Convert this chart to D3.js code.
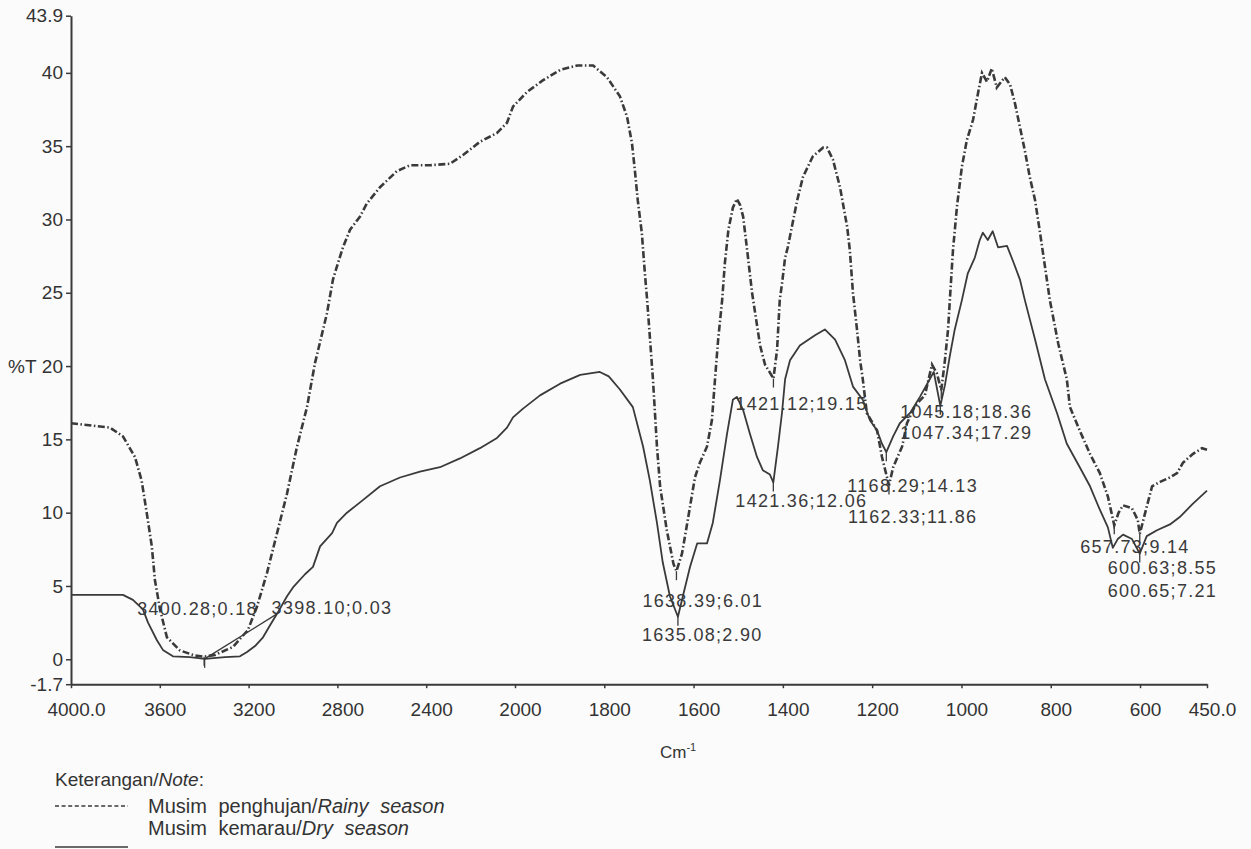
<!DOCTYPE html>
<html>
<head>
<meta charset="utf-8">
<script src="https://cdn.jsdelivr.net/npm/d3@7"></script>
<style>
  body { margin: 0; background: #fbfbfb; }
  svg { display: block; font-family: "Liberation Sans", Arial, sans-serif; }
</style>
</head>
<body>
<svg width="1251" height="849"></svg>
<script>
// [wavenumber cm-1, %T]
let rainy = [
  [4000,16.1],[3824,15.8],[3766,15.2],[3712,13.8],[3682,12.2],[3659,10.0],[3636,7.7],[3622,5.4],
  [3599,3.4],[3568,1.5],[3509,0.6],[3441,0.25],[3400.28,0.18],[3351,0.3],[3270,0.85],[3203,2.0],
  [3162,3.6],[3117,5.9],[3072,8.6],[3027,11.3],[2982,14.5],[2937,17.2],[2901,20.2],[2847,23.6],
  [2820,25.9],[2802,26.8],[2775,28.1],[2743,29.3],[2698,30.2],[2667,31.1],[2608,32.2],[2532,33.3],
  [2473,33.7],[2383,33.7],[2293,33.8],[2234,34.4],[2158,35.3],[2081,35.9],[2036,36.6],[2009,37.7],
  [1973,38.7],[1937,39.5],[1899,40.2],[1861,40.5],[1825,40.5],[1794,39.7],[1765,38.4],[1749,37.0],
  [1738,35.2],[1731,33.2],[1725,31.3],[1716,29.1],[1709,26.3],[1704,24.5],[1691,19.1],[1682,14.5],
  [1675,11.8],[1660,8.8],[1645,6.5],[1638.39,6.01],[1626,7.2],[1613,9.5],[1597,12.4],[1586,13.4],
  [1570,14.5],[1559,16.3],[1552,19.1],[1545,21.8],[1536,24.5],[1530,27.0],[1522,29.3],[1512,30.8],
  [1503,31.4],[1496,31.0],[1489,30.2],[1480,27.9],[1469,25.0],[1460,23.2],[1451,21.4],[1440,20.1],
  [1430,19.6],[1421.12,19.15],[1413,21.1],[1407,24.5],[1402,25.6],[1395,27.4],[1389,28.1],[1368,31.3],
  [1355,32.9],[1333,34.3],[1310,34.9],[1301,34.9],[1288,34.1],[1272,32.2],[1256,29.5],[1250,27.9],
  [1243,25.0],[1234,22.5],[1227,20.4],[1221,19.1],[1212,16.8],[1189,15.6],[1178,13.8],[1162.33,11.86],
  [1153,13.1],[1133,14.5],[1122,16.1],[1104,17.3],[1082,18.0],[1066,20.1],[1055,19.5],[1045.18,18.36],
  [1037,20.4],[1030,22.5],[1026,24.5],[1019,27.9],[1010,30.9],[999,33.6],[988,35.4],[974,36.8],
  [963,38.6],[954,40.0],[943,39.4],[932,40.3],[921,39.0],[903,39.7],[891,39.2],[880,37.9],
  [869,36.3],[858,34.7],[847,32.9],[835,31.3],[824,29.1],[813,26.8],[802,24.5],[783,21.5],
  [764,19.1],[757,17.2],[735,15.6],[712,14.0],[690,12.7],[672,11.1],[657.73,9.14],[648,10.0],
  [638,10.5],[618,10.3],[605,9.5],[600.63,8.55],[585,10.4],[573,11.8],[555,12.1],[533,12.4],
  [517,12.7],[504,13.4],[482,14.0],[461,14.4],[450,14.3]
];

let dry = [
  [4000,4.39],[3766,4.39],[3721,4.05],[3676,3.4],[3653,2.5],[3613,1.3],[3586,0.64],[3541,0.2],
  [3464,0.15],[3398.1,0.03],[3306,0.15],[3239,0.2],[3207,0.5],[3171,0.9],[3135,1.5],[3104,2.3],
  [3072,3.1],[3027,4.3],[3000,4.9],[2946,5.8],[2910,6.3],[2878,7.7],[2824,8.6],[2802,9.3],
  [2757,10.0],[2698,10.7],[2608,11.8],[2518,12.4],[2428,12.8],[2338,13.1],[2248,13.7],[2158,14.4],
  [2081,15.1],[2036,15.8],[2009,16.5],[1982,17.1],[1944,18.0],[1899,18.8],[1854,19.4],[1810,19.6],
  [1790,19.3],[1765,18.4],[1736,17.2],[1713,14.5],[1698,12.2],[1682,9.3],[1669,6.6],[1653,4.3],
  [1635.08,2.90],[1624,4.3],[1608,6.3],[1592,7.9],[1570,7.9],[1557,9.3],[1541,12.2],[1525,15.4],
  [1512,17.7],[1503,17.9],[1489,17.0],[1474,15.4],[1458,13.8],[1445,12.9],[1429,12.6],[1421.36,12.06],
  [1411,14.5],[1402,16.8],[1395,19.1],[1384,20.4],[1362,21.4],[1328,22.1],[1306,22.5],[1283,21.8],
  [1261,20.4],[1243,18.6],[1221,17.7],[1205,16.3],[1189,15.6],[1178,14.7],[1168.29,14.13],[1153,15.2],
  [1138,16.1],[1115,16.8],[1093,17.9],[1071,19.1],[1062,19.6],[1047.34,17.29],[1037,18.7],[1026,20.7],
  [1015,22.5],[999,24.5],[986,26.3],[970,27.4],[959,28.6],[952,29.1],[941,28.6],[930,29.2],
  [918,28.1],[898,28.2],[885,27.2],[869,25.9],[858,24.5],[835,21.8],[813,19.1],[786,16.8],
  [764,14.7],[735,13.1],[712,11.8],[690,10.2],[672,9.0],[661,7.6],[650,8.2],[638,8.5],
  [618,8.2],[600.65,7.21],[585,8.4],[562,8.8],[533,9.2],[511,9.7],[482,10.6],[450,11.5]
];

// straight jump the recorder drew across the saturated O-H band
let dryChord = [[3398.1,0.03],[3072,3.1]];

// labelled minima: wavenumber, %T
let peakWn = [3400.28, 3398.10, 1638.39, 1635.08, 1421.12, 1421.36, 1168.29, 1162.33, 1045.18, 1047.34, 657.73, 600.63, 600.65];
let peakT  = [0.18, 0.03, 6.01, 2.90, 19.15, 12.06, 14.13, 11.86, 18.36, 17.29, 9.14, 8.55, 7.21];
let peakText = peakWn.map((w, i) => w.toFixed(2) + ";" + peakT[i].toFixed(2));
// label offsets in px from the minimum (layout only)
let peakDx = [-67, 67, -34, -36, -38, -38, -39, -41, -41, -40, -34, -32, -32];
let peakDy = [-42, -45, 36, 24, 31, 25, 40, 38, 28, 33, 28, 40, 43];

let xTicks = [4000, 3600, 3200, 2800, 2400, 2000, 1800, 1600, 1400, 1200, 1000, 800, 600, 450];
let yTicks = [43.9, 40, 35, 30, 25, 20, 15, 10, 5, 0, -1.7];

let ink = "#3a3a3a";
let svg = d3.select("svg");

// the instrument doubles the scale below 2000 cm-1
let x = d3.scaleLinear().domain([4000, 2000, 450]).range([71, 515, 1207]);
let y = d3.scaleLinear().domain([-1.7, 43.9]).range([684.2, 15.7]);

// axes
let xAxis = svg.append("g")
    .attr("transform", "translate(0," + y(-1.7) + ")")
    .call(d3.axisBottom(x).tickValues(xTicks).tickSize(4).tickSizeOuter(0)
      .tickFormat(d => (d == 4000 || d == 450) ? d.toFixed(1) : d));
let yAxis = svg.append("g")
    .attr("transform", "translate(" + x(4000) + ",0)")
    .call(d3.axisLeft(y).tickValues(yTicks).tickSize(5).tickSizeOuter(0)
      .tickFormat(d => String(d)));

svg.selectAll(".domain").attr("stroke", ink).attr("stroke-width", 2);
svg.selectAll(".tick line").attr("stroke", ink).attr("stroke-width", 1.5);
svg.selectAll(".tick text").attr("fill", "#333").style("font-size", "19px");
xAxis.selectAll(".tick text").attr("y", 18).attr("dx", 5);
yAxis.selectAll(".tick text").attr("x", -8);

svg.append("text").attr("x", 8).attr("y", y(20) + 7)
    .attr("fill", "#333").style("font-size", "19px").text("%T");

let cm = svg.append("text").attr("x", 660).attr("y", 758)
    .attr("fill", "#333").style("font-size", "17px");
cm.append("tspan").text("Cm");
cm.append("tspan").attr("dy", -7).style("font-size", "11px").text("-1");

// spectra
let line = d3.line().x(d => x(d[0])).y(d => y(d[1]));

svg.append("path").datum(dry)
    .attr("d", line).attr("fill", "none")
    .attr("stroke", ink).attr("stroke-width", 1.8).attr("stroke-linejoin", "round");
svg.append("path").datum(dryChord)
    .attr("d", line).attr("fill", "none")
    .attr("stroke", ink).attr("stroke-width", 1.3);
svg.append("path").datum(rainy)
    .attr("d", line).attr("fill", "none")
    .attr("stroke", ink).attr("stroke-width", 2.6)
    .attr("stroke-dasharray", "7,2.5,1.5,2.5");

// peak markers + labels
let peaks = peakWn.map((w, i) => ({ w: w, t: peakT[i], s: peakText[i], dx: peakDx[i], dy: peakDy[i] }));

svg.selectAll(".mark").data(peaks).enter().append("line")
    .attr("x1", d => x(d.w)).attr("x2", d => x(d.w))
    .attr("y1", d => y(d.t)).attr("y2", d => y(d.t) + 9)
    .attr("stroke", ink).attr("stroke-width", 1.3);

svg.selectAll(".plabel").data(peaks).enter().append("text")
    .attr("x", d => x(d.w) + d.dx)
    .attr("y", d => y(d.t) + d.dy)
    .attr("fill", "#3a3a3a")
    .style("font-size", "18px").style("letter-spacing", "1.3px")
    .text(d => d.s);

// legend note
let note = svg.append("g").attr("fill", "#333").style("font-size", "19px");
let t1 = note.append("text").attr("x", 55).attr("y", 786);
t1.append("tspan").text("Keterangan/");
t1.append("tspan").style("font-style", "italic").text("Note");
t1.append("tspan").text(":");

note.append("line").attr("x1", 55).attr("x2", 128).attr("y1", 806).attr("y2", 806)
    .attr("stroke", ink).attr("stroke-width", 1.3).attr("stroke-dasharray", "4,2.6");
let t2 = note.append("text").attr("x", 148).attr("y", 813)
    .style("font-size", "20px").style("word-spacing", "6px");
t2.append("tspan").text("Musim penghujan/");
t2.append("tspan").style("font-style", "italic").text("Rainy season");

note.append("line").attr("x1", 55).attr("x2", 128).attr("y1", 847).attr("y2", 847)
    .attr("stroke", ink).attr("stroke-width", 1.3);
let t3 = note.append("text").attr("x", 148).attr("y", 835)
    .style("font-size", "20px").style("word-spacing", "6px");
t3.append("tspan").text("Musim kemarau/");
t3.append("tspan").style("font-style", "italic").text("Dry season");
</script>
</body>
</html>
